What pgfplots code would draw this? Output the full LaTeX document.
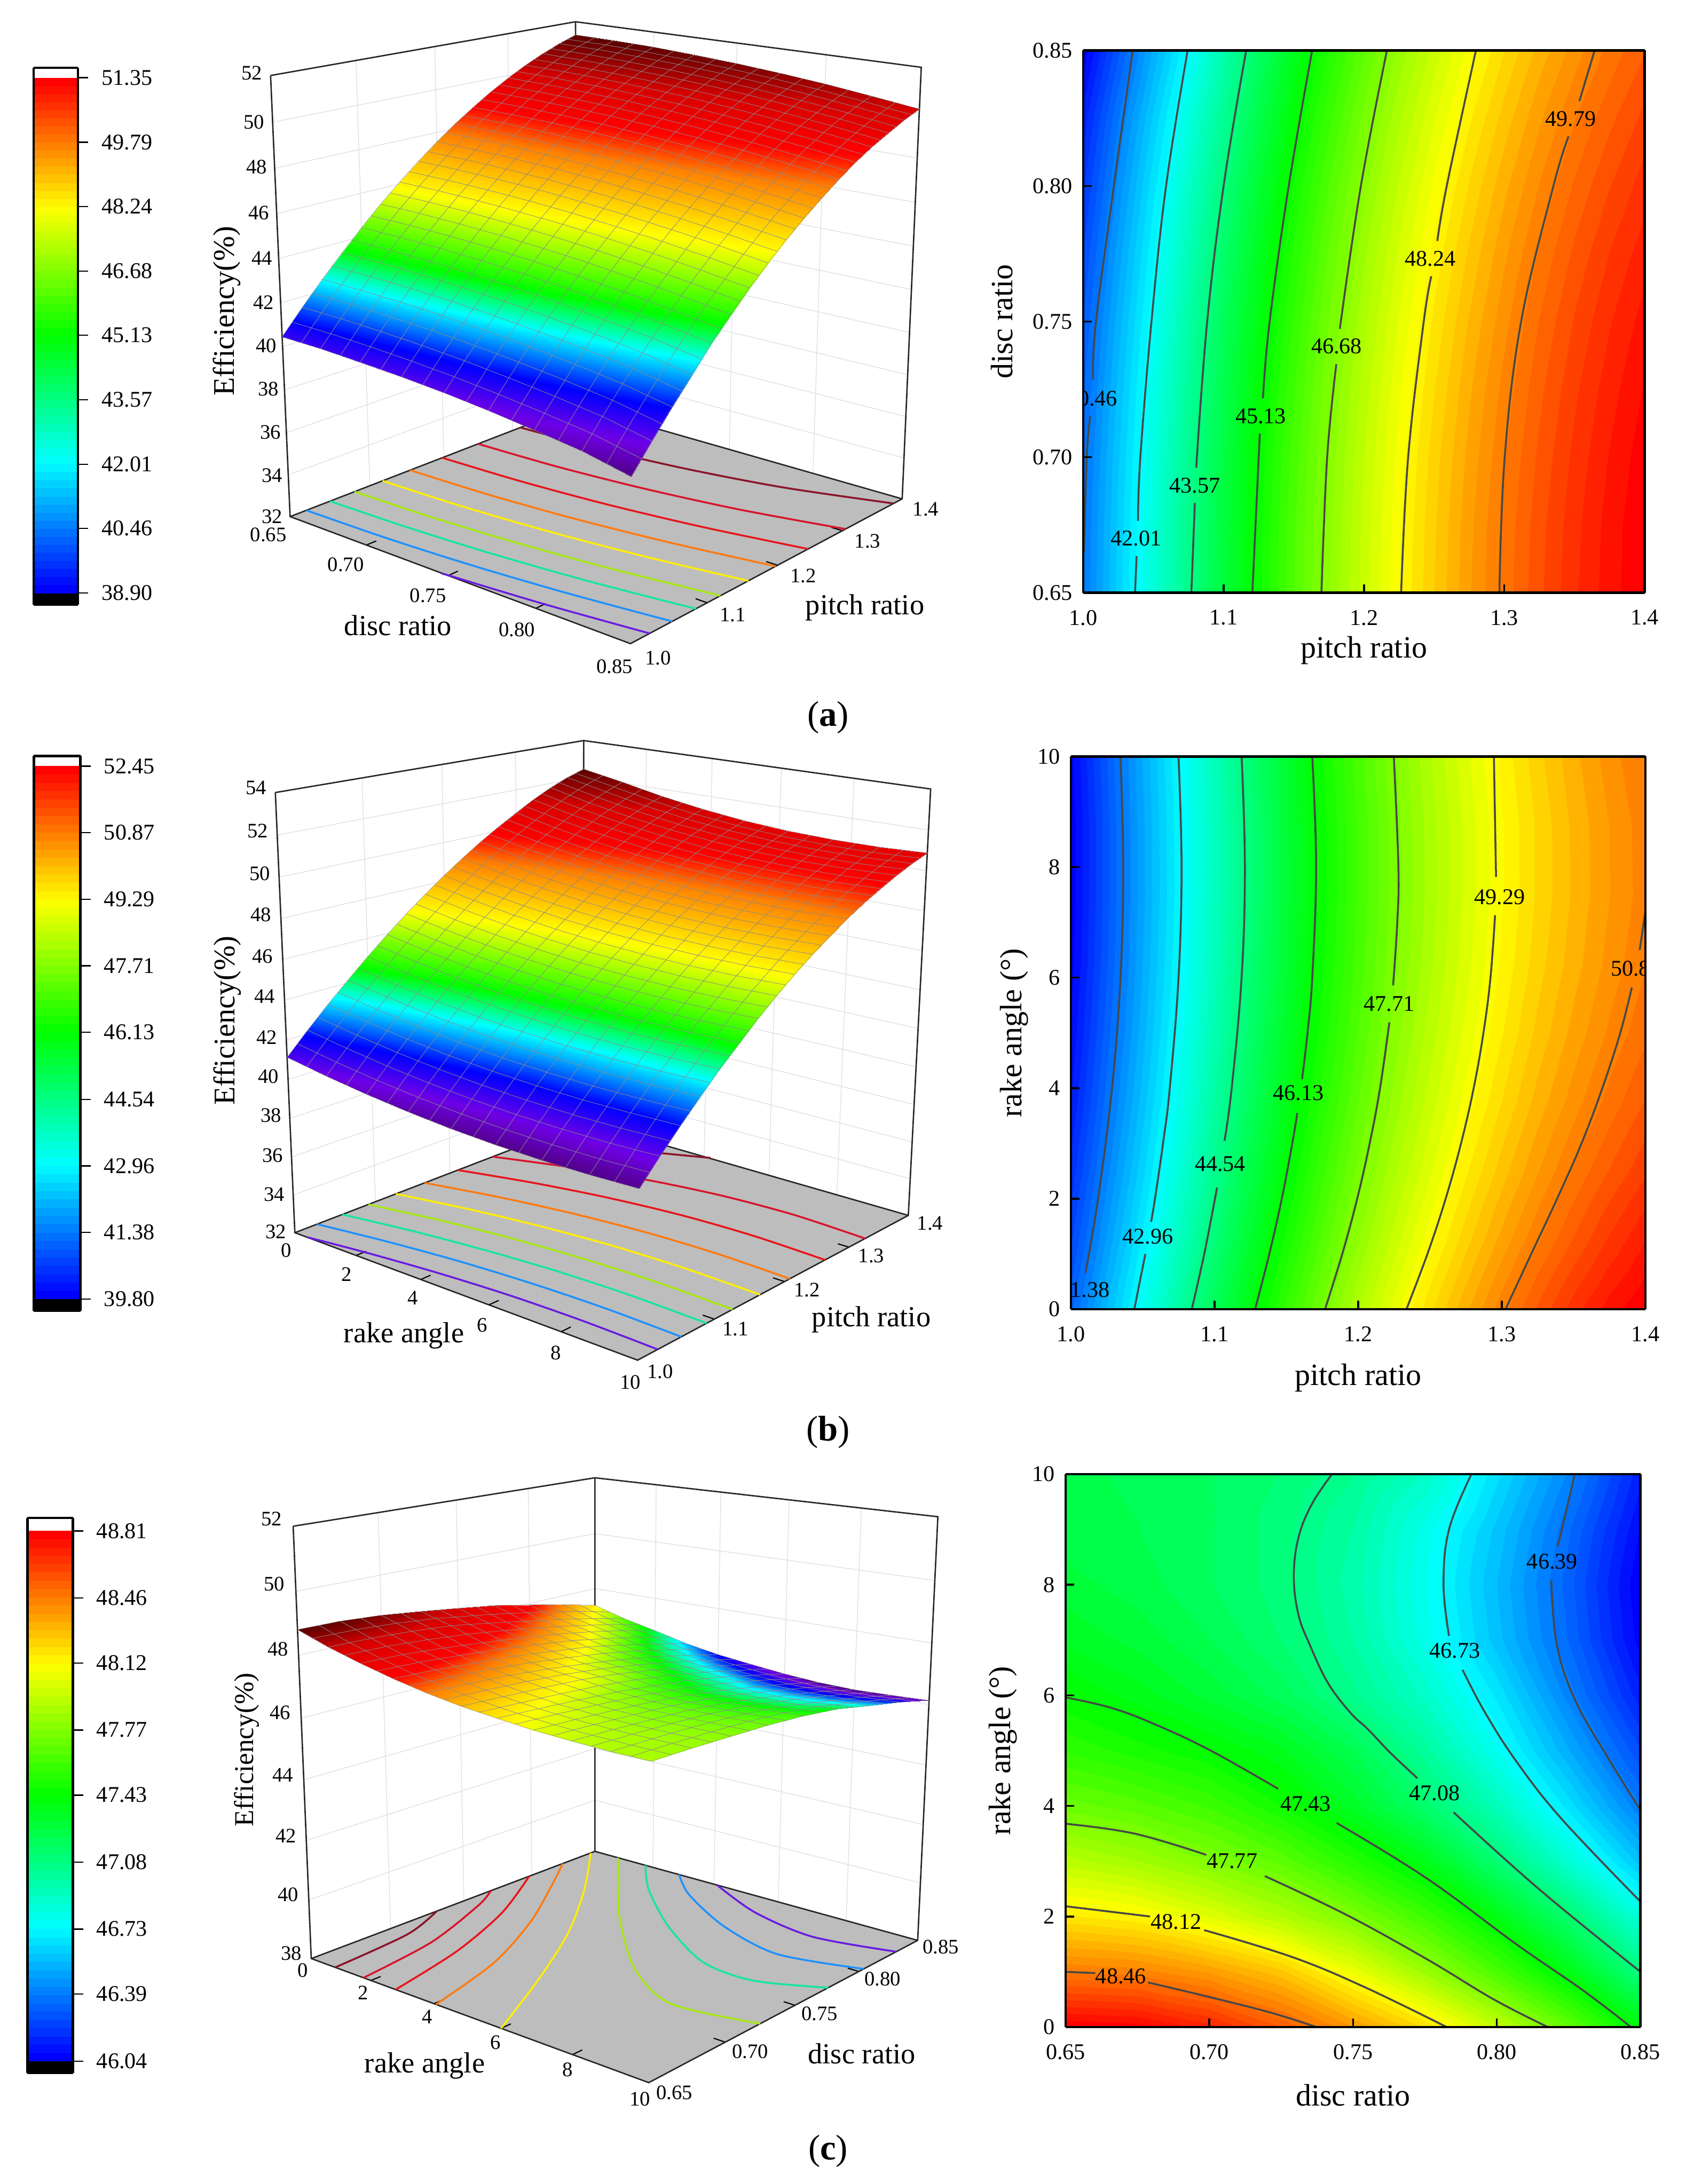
\documentclass[border=0pt]{standalone}
\usepackage{fontspec}
\setmainfont{Liberation Serif}
\usepackage{pgfplots}
\usepackage{pgfplotstable}
\usepgfplotslibrary{patchplots}
\pgfplotsset{compat=1.18}

\definecolor{floorgray}{HTML}{BDBDBD}
\definecolor{wallgrid}{HTML}{DCDCE6}
\definecolor{flA}{HTML}{6A1BE0}
\definecolor{flB}{HTML}{1E90FF}
\definecolor{flC}{HTML}{14E6A0}
\definecolor{flD}{HTML}{A6E812}
\definecolor{flE}{HTML}{FFEE00}
\definecolor{flF}{HTML}{FF7A10}
\definecolor{flG}{HTML}{E8151C}
\definecolor{flH}{HTML}{D8152C}
\definecolor{flI}{HTML}{8A1428}

\newcommand\ft{\fontsize{12}{14}\selectfont}
\newcommand\fb{\fontsize{11}{13}\selectfont}
\newcommand\fl{\fontsize{15.5}{18}\selectfont}
\newcommand\fc{\fontsize{16.5}{19}\selectfont}
\newcommand\fe{\fontsize{16}{18}\selectfont}
\newcommand\fg{\fontsize{14.5}{17}\selectfont}
\newcommand\fk{\fontsize{19}{22}\selectfont}

\pgfplotsset{
  /pgf/number format/assume math mode=true,
  colormap={jetflat}{rgb255(0cm)=(0,0,255) rgb255(1cm)=(0,255,255) rgb255(2cm)=(0,255,0) rgb255(3cm)=(255,255,0) rgb255(4cm)=(255,0,0)},
  colormap={bands}{samples of colormap={64 of jetflat}},
  colormap={lit}{rgb255(0cm)=(80,0,130) rgb255(8cm)=(110,0,230) rgb255(17cm)=(0,0,255) rgb255(29cm)=(0,255,255) rgb255(38cm)=(0,255,0) rgb255(56cm)=(255,255,0) rgb255(72cm)=(255,128,0) rgb255(80cm)=(255,0,0) rgb255(90cm)=(215,0,0) rgb255(100cm)=(90,0,0)},
  colormap={litc}{rgb255(0cm)=(80,0,130) rgb255(6cm)=(110,0,230) rgb255(13cm)=(0,0,255) rgb255(22cm)=(0,255,255) rgb255(32cm)=(0,255,0) rgb255(48cm)=(255,255,0) rgb255(60cm)=(255,128,0) rgb255(68cm)=(255,0,0) rgb255(85cm)=(215,0,0) rgb255(100cm)=(90,0,0)},
  /pgfplots/table/proj/.style={x expr={FX(\thisrow{a},\thisrow{b},\thisrow{c})},y expr={FY(\thisrow{a},\thisrow{b},\thisrow{c})},z expr=0},
  /pgfplots/table/projf/.style={x expr={FX(\thisrow{a},\thisrow{b},\zf)},y expr={FY(\thisrow{a},\thisrow{b},\zf)},z expr=0},
  page3d/.style={scale only axis,at={(0cm,0cm)},anchor=south west,width=31.58cm,height=40.92cm,
    xmin=0,xmax=3158,ymin=0,ymax=4092,zmin=-1,zmax=1,y dir=reverse,view={0}{90},hide axis,clip=false,colormap name=lit},
  wall/.style={draw=wallgrid,line width=0.35pt},
  box/.style={draw=black!85,line width=0.75pt},
  tk/.style={draw=black,line width=0.6pt},
  flo/.style={smooth,line width=1pt},
  mesh3d/.style={surf,shader=interp},
  over3d/.style={mesh,draw=black!45,line width=0.15pt,patch refines=1},
  heat/.style={scale only axis,anchor=south west,view={0}{90},axis on top,zmin=-1,zmax=1,unbounded coords=jump,
    tick align=inside,tick pos=left,major tick length=0.16cm,tick style={black,line width=1pt},
    axis line style={line width=1.3pt},tick label style={font=\ft},
    xticklabel style={yshift=-0.2cm},yticklabel style={xshift=-0.08cm},
    colormap name=bands,colormap access=piecewise constant,label style={font=\fc}},
  cline/.style={smooth,tension=0.65,draw=black!72,line width=1pt},
  cbar/.style={scale only axis,anchor=south west,view={0}{90},axis on top,zmin=-1,zmax=1,xmin=0,xmax=1,xtick=\empty,
    ytick pos=right,yticklabel pos=right,tick align=outside,major tick length=0.19cm,
    tick style={black,line width=0.7pt},axis line style={line width=1.4pt},
    tick label style={font=\ft},yticklabel style={xshift=0.13cm,/pgf/number format/fixed,/pgf/number format/fixed zerofill,/pgf/number format/precision=2},
    colormap name=bands,colormap access=piecewise constant,scaled y ticks=false},
}
\newcommand\seg[2]{\addplot3[#1] table[proj,row sep=\\]{a b c\\#2};}
\newcommand\flin[2]{\addplot3[flo,draw=#1] table[projf,row sep=\\]{a b\\#2};}
\newcommand\cl[1]{\addplot3[cline] table[row sep=\\,x index=0,y index=1,z expr=0,header=false]{#1};}
\newcommand\clab[3]{\node[font=\ft] at (axis cs:#1,#2,0) {#3};}
\newcommand\lab[4]{\node[font=#1] at ({#2*0.01},{(4092-#3)*0.01}) {#4};}

\pgfplotstableread{
a b c
0.65 1.000 40.45
0.65 1.025 41.52
0.65 1.050 42.54
0.65 1.075 43.50
0.65 1.100 44.42
0.65 1.125 45.28
0.65 1.150 46.09
0.65 1.175 46.85
0.65 1.200 47.56
0.65 1.225 48.22
0.65 1.250 48.82
0.65 1.275 49.38
0.65 1.300 49.88
0.65 1.325 50.33
0.65 1.350 50.73
0.65 1.375 51.07
0.65 1.400 51.35
0.675 1.000 40.42
0.675 1.025 41.49
0.675 1.050 42.50
0.675 1.075 43.47
0.675 1.100 44.39
0.675 1.125 45.25
0.675 1.150 46.06
0.675 1.175 46.82
0.675 1.200 47.53
0.675 1.225 48.19
0.675 1.250 48.79
0.675 1.275 49.35
0.675 1.300 49.85
0.675 1.325 50.30
0.675 1.350 50.70
0.675 1.375 51.05
0.675 1.400 51.34
0.70 1.000 40.34
0.70 1.025 41.41
0.70 1.050 42.43
0.70 1.075 43.40
0.70 1.100 44.32
0.70 1.125 45.18
0.70 1.150 45.99
0.70 1.175 46.75
0.70 1.200 47.46
0.70 1.225 48.12
0.70 1.250 48.73
0.70 1.275 49.28
0.70 1.300 49.78
0.70 1.325 50.23
0.70 1.350 50.63
0.70 1.375 50.98
0.70 1.400 51.28
0.725 1.000 40.23
0.725 1.025 41.30
0.725 1.050 42.32
0.725 1.075 43.29
0.725 1.100 44.21
0.725 1.125 45.07
0.725 1.150 45.88
0.725 1.175 46.65
0.725 1.200 47.36
0.725 1.225 48.01
0.725 1.250 48.62
0.725 1.275 49.18
0.725 1.300 49.68
0.725 1.325 50.13
0.725 1.350 50.53
0.725 1.375 50.88
0.725 1.400 51.18
0.75 1.000 40.08
0.75 1.025 41.15
0.75 1.050 42.17
0.75 1.075 43.14
0.75 1.100 44.06
0.75 1.125 44.92
0.75 1.150 45.74
0.75 1.175 46.50
0.75 1.200 47.21
0.75 1.225 47.87
0.75 1.250 48.48
0.75 1.275 49.04
0.75 1.300 49.54
0.75 1.325 50.00
0.75 1.350 50.40
0.75 1.375 50.75
0.75 1.400 51.05
0.775 1.000 39.88
0.775 1.025 40.95
0.775 1.050 41.98
0.775 1.075 42.95
0.775 1.100 43.87
0.775 1.125 44.74
0.775 1.150 45.55
0.775 1.175 46.32
0.775 1.200 47.03
0.775 1.225 47.69
0.775 1.250 48.30
0.775 1.275 48.86
0.775 1.300 49.37
0.775 1.325 49.82
0.775 1.350 50.23
0.775 1.375 50.58
0.775 1.400 50.88
0.80 1.000 39.64
0.80 1.025 40.72
0.80 1.050 41.75
0.80 1.075 42.72
0.80 1.100 43.64
0.80 1.125 44.51
0.80 1.150 45.33
0.80 1.175 46.10
0.80 1.200 46.81
0.80 1.225 47.48
0.80 1.250 48.09
0.80 1.275 48.65
0.80 1.300 49.16
0.80 1.325 49.61
0.80 1.350 50.02
0.80 1.375 50.37
0.80 1.400 50.68
0.825 1.000 39.37
0.825 1.025 40.45
0.825 1.050 41.47
0.825 1.075 42.45
0.825 1.100 43.37
0.825 1.125 44.25
0.825 1.150 45.07
0.825 1.175 45.84
0.825 1.200 46.55
0.825 1.225 47.22
0.825 1.250 47.83
0.825 1.275 48.40
0.825 1.300 48.91
0.825 1.325 49.37
0.825 1.350 49.78
0.825 1.375 50.13
0.825 1.400 50.44
0.85 1.000 38.95
0.85 1.025 40.03
0.85 1.050 41.08
0.85 1.075 42.06
0.85 1.100 43.07
0.85 1.125 43.94
0.85 1.150 44.77
0.85 1.175 45.54
0.85 1.200 46.26
0.85 1.225 46.93
0.85 1.250 47.54
0.85 1.275 48.11
0.85 1.300 48.63
0.85 1.325 49.09
0.85 1.350 49.50
0.85 1.375 49.86
0.85 1.400 50.17
}\tabA

\pgfplotstableread{
a b c
0 1.000 41.13
0 1.025 42.18
0 1.050 43.19
0 1.075 44.15
0 1.100 45.07
0 1.125 45.94
0 1.150 46.77
0 1.175 47.55
0 1.200 48.29
0 1.225 48.98
0 1.250 49.63
0 1.275 50.23
0 1.300 50.79
0 1.325 51.30
0 1.350 51.77
0 1.375 52.15
0 1.400 52.45
1.25 1.000 40.76
1.25 1.025 41.82
1.25 1.050 42.83
1.25 1.075 43.79
1.25 1.100 44.70
1.25 1.125 45.57
1.25 1.150 46.39
1.25 1.175 47.17
1.25 1.200 47.90
1.25 1.225 48.58
1.25 1.250 49.22
1.25 1.275 49.81
1.25 1.300 50.35
1.25 1.325 50.84
1.25 1.350 51.29
1.25 1.375 51.70
1.25 1.400 52.05
2.5 1.000 40.46
2.5 1.025 41.51
2.5 1.050 42.52
2.5 1.075 43.49
2.5 1.100 44.40
2.5 1.125 45.26
2.5 1.150 46.08
2.5 1.175 46.85
2.5 1.200 47.57
2.5 1.225 48.25
2.5 1.250 48.87
2.5 1.275 49.45
2.5 1.300 49.98
2.5 1.325 50.46
2.5 1.350 50.90
2.5 1.375 51.28
2.5 1.400 51.62
3.75 1.000 40.21
3.75 1.025 41.27
3.75 1.050 42.28
3.75 1.075 43.24
3.75 1.100 44.16
3.75 1.125 45.02
3.75 1.150 45.83
3.75 1.175 46.60
3.75 1.200 47.31
3.75 1.225 47.98
3.75 1.250 48.60
3.75 1.275 49.17
3.75 1.300 49.69
3.75 1.325 50.16
3.75 1.350 50.58
3.75 1.375 50.95
3.75 1.400 51.28
5 1.000 40.03
5 1.025 41.09
5 1.050 42.10
5 1.075 43.06
5 1.100 43.98
5 1.125 44.84
5 1.150 45.65
5 1.175 46.41
5 1.200 47.12
5 1.225 47.79
5 1.250 48.40
5 1.275 48.96
5 1.300 49.47
5 1.325 49.94
5 1.350 50.35
5 1.375 50.71
5 1.400 51.02
6.25 1.000 39.91
6.25 1.025 40.97
6.25 1.050 41.99
6.25 1.075 42.95
6.25 1.100 43.86
6.25 1.125 44.72
6.25 1.150 45.53
6.25 1.175 46.29
6.25 1.200 47.00
6.25 1.225 47.66
6.25 1.250 48.26
6.25 1.275 48.82
6.25 1.300 49.33
6.25 1.325 49.79
6.25 1.350 50.19
6.25 1.375 50.55
6.25 1.400 50.86
7.5 1.000 39.86
7.5 1.025 40.92
7.5 1.050 41.93
7.5 1.075 42.89
7.5 1.100 43.80
7.5 1.125 44.66
7.5 1.150 45.47
7.5 1.175 46.23
7.5 1.200 46.94
7.5 1.225 47.59
7.5 1.250 48.20
7.5 1.275 48.76
7.5 1.300 49.26
7.5 1.325 49.72
7.5 1.350 50.12
7.5 1.375 50.47
7.5 1.400 50.78
8.75 1.000 39.86
8.75 1.025 40.92
8.75 1.050 41.94
8.75 1.075 42.90
8.75 1.100 43.81
8.75 1.125 44.67
8.75 1.150 45.48
8.75 1.175 46.24
8.75 1.200 46.94
8.75 1.225 47.60
8.75 1.250 48.21
8.75 1.275 48.76
8.75 1.300 49.27
8.75 1.325 49.72
8.75 1.350 50.13
8.75 1.375 50.48
8.75 1.400 50.79
10 1.000 39.93
10 1.025 40.99
10 1.050 42.00
10 1.075 42.96
10 1.100 43.88
10 1.125 44.74
10 1.150 45.55
10 1.175 46.31
10 1.200 47.02
10 1.225 47.68
10 1.250 48.28
10 1.275 48.84
10 1.300 49.35
10 1.325 49.81
10 1.350 50.22
10 1.375 50.58
10 1.400 50.88
}\tabB

\pgfplotstableread{
a b c
0 0.65 48.81
0 0.675 48.79
0 0.70 48.70
0 0.725 48.55
0 0.75 48.38
0 0.775 48.20
0 0.80 47.95
0 0.825 47.69
0 0.85 47.39
1 0.65 48.46
1 0.675 48.44
1 0.70 48.37
1 0.725 48.26
1 0.75 48.06
1 0.775 47.84
1 0.80 47.62
1 0.825 47.37
1 0.85 47.08
2 0.65 48.17
2 0.675 48.13
2 0.70 48.03
2 0.725 47.90
2 0.75 47.76
2 0.775 47.59
2 0.80 47.38
2 0.825 47.13
2 0.85 46.84
3 0.65 47.92
3 0.675 47.86
3 0.70 47.77
3 0.725 47.67
3 0.75 47.52
3 0.775 47.36
3 0.80 47.12
3 0.825 46.86
3 0.85 46.58
4 0.65 47.71
4 0.675 47.66
4 0.70 47.59
4 0.725 47.47
4 0.75 47.32
4 0.775 47.14
4 0.80 46.93
4 0.825 46.67
4 0.85 46.39
5 0.65 47.55
5 0.675 47.49
5 0.70 47.43
5 0.725 47.35
5 0.75 47.21
5 0.775 47.01
5 0.80 46.78
5 0.825 46.52
5 0.85 46.26
6 0.65 47.43
6 0.675 47.36
6 0.70 47.28
6 0.725 47.19
6 0.75 47.05
6 0.775 46.89
6 0.80 46.68
6 0.825 46.41
6 0.85 46.14
7 0.65 47.33
7 0.675 47.28
7 0.70 47.21
7 0.725 47.12
7 0.75 46.99
7 0.775 46.80
7 0.80 46.58
7 0.825 46.34
7 0.85 46.06
8 0.65 47.27
8 0.675 47.23
8 0.70 47.17
8 0.725 47.10
8 0.75 46.97
8 0.775 46.78
8 0.80 46.56
8 0.825 46.32
8 0.85 46.04
9 0.65 47.23
9 0.675 47.21
9 0.70 47.17
9 0.725 47.10
9 0.75 46.99
9 0.775 46.80
9 0.80 46.59
9 0.825 46.35
9 0.85 46.08
10 0.65 47.22
10 0.675 47.20
10 0.70 47.17
10 0.725 47.12
10 0.75 47.04
10 0.775 46.90
10 0.80 46.66
10 0.825 46.42
10 0.85 46.14
}\tabC

\begin{document}
\begin{tikzpicture}
\path[use as bounding box] (0,0) rectangle (31.58,40.92);

% ---------- colour bars
\begin{axis}[cbar,at={(0.63cm,29.59cm)},width=0.83cm,height=10.06cm,ymin=38.62,ymax=51.59,
  ytick={38.90,40.46,42.01,43.57,45.13,46.68,48.24,49.79,51.35},point meta min=38.90,point meta max=51.35]
\addplot3[fill=black,draw=none] coordinates {(0,38.62,0)(1,38.62,0)(1,38.9,0)(0,38.9,0)};
\addplot3[surf,shader=interp,mesh/rows=2,mesh/cols=2,point meta=y] coordinates {(0,38.9,0)(1,38.9,0)(0,51.35,0)(1,51.35,0)};
\end{axis}
\begin{axis}[cbar,at={(0.635cm,16.36cm)},width=0.87cm,height=10.395cm,ymin=39.52,ymax=52.69,
  ytick={39.80,41.38,42.96,44.54,46.13,47.71,49.29,50.87,52.45},point meta min=39.80,point meta max=52.45]
\addplot3[fill=black,draw=none] coordinates {(0,39.52,0)(1,39.52,0)(1,39.8,0)(0,39.8,0)};
\addplot3[surf,shader=interp,mesh/rows=2,mesh/cols=2,point meta=y] coordinates {(0,39.8,0)(1,39.8,0)(0,52.45,0)(1,52.45,0)};
\end{axis}
\begin{axis}[cbar,at={(0.515cm,2.08cm)},width=0.85cm,height=10.40cm,ymin=45.978,ymax=48.878,
  ytick={46.04,46.39,46.73,47.08,47.43,47.77,48.12,48.46,48.81},point meta min=46.04,point meta max=48.81]
\addplot3[fill=black,draw=none] coordinates {(0,45.978,0)(1,45.978,0)(1,46.04,0)(0,46.04,0)};
\addplot3[surf,shader=interp,mesh/rows=2,mesh/cols=2,point meta=y] coordinates {(0,46.04,0)(1,46.04,0)(0,48.81,0)(1,48.81,0)};
\end{axis}

% ---------- panel a, surface
\begin{axis}[page3d,point meta min=38.9,point meta max=51.35,
  declare function={uu(\a)=(\a-0.65)/0.2; vv(\b)=(\b-1)/0.4; ww(\c)=(\c-32)/20;
    dd(\a,\b,\c)=1-0.1338*uu(\a)+0.157*vv(\b)-0.06*ww(\c);
    FX(\a,\b,\c)=(543.4+479.5*uu(\a)+706.2*vv(\b)-67.0*ww(\c))/dd(\a,\b,\c);
    FY(\a,\b,\c)=30+0.9072*((1063.9+85.0*uu(\a)-97.8*vv(\b)-920.1*ww(\c))/dd(\a,\b,\c)-30);}]
\def\zf{32}
\addplot3[fill=floorgray,draw=none] table[projf,row sep=\\]{a b\\0.65 1\\0.85 1\\0.85 1.4\\0.65 1.4\\};
\pgfplotsinvokeforeach{34,36,...,50}{\seg{wall}{0.65 1 #1\\0.65 1.4 #1\\0.85 1.4 #1\\}}
\pgfplotsinvokeforeach{1.1,1.2,1.3}{\seg{wall}{0.65 #1 32\\0.65 #1 52\\}\seg{tk}{0.85 #1 32\\0.844 #1 32\\}}
\pgfplotsinvokeforeach{0.70,0.75,0.80}{\seg{wall}{#1 1.4 32\\#1 1.4 52\\}\seg{tk}{#1 1 32\\#1 1.012 32\\}}
\seg{box}{0.65 1 52\\0.65 1.4 52\\0.85 1.4 52\\0.85 1.4 32\\0.85 1 32\\0.65 1 32\\0.65 1 52\\}
\seg{box}{0.65 1.4 52\\0.65 1.4 32\\}
\seg{box}{0.65 1 32\\0.65 1.4 32\\0.85 1.4 32\\}
\flin{flA}{0.748 1\\0.75 1.0006\\0.80 1.0106\\0.85 1.0242\\}
\flin{flB}{0.65 1.0198\\0.70 1.0223\\0.75 1.0286\\0.80 1.0391\\0.85 1.0533\\}
\flin{flC}{0.65 1.0491\\0.70 1.0518\\0.75 1.0584\\0.80 1.0693\\0.85 1.0848\\}
\flin{flD}{0.65 1.0803\\0.70 1.0829\\0.75 1.0901\\0.80 1.1018\\0.85 1.1182\\}
\flin{flE}{0.65 1.1167\\0.70 1.1196\\0.75 1.1274\\0.80 1.1399\\0.85 1.1573\\}
\flin{flF}{0.65 1.1535\\0.70 1.1567\\0.75 1.1648\\0.80 1.1784\\0.85 1.1971\\}
\flin{flG}{0.65 1.1978\\0.70 1.2015\\0.75 1.2104\\0.80 1.2252\\0.85 1.2461\\}
\flin{flH}{0.65 1.2491\\0.70 1.253\\0.75 1.2632\\0.80 1.28\\0.85 1.305\\}
\flin{flI}{0.65 1.312\\0.70 1.3171\\0.75 1.33\\0.80 1.3515\\0.85 1.385\\}
\addplot3[mesh3d,mesh/rows=9,mesh/cols=17,point meta=\thisrow{c}] table[proj] {\tabA};
\addplot3[over3d,mesh/rows=9,mesh/cols=17,point meta=\thisrow{c}] table[proj] {\tabA};
\end{axis}

% ---------- panel b, surface
\begin{axis}[page3d,point meta min=39.8,point meta max=52.45,
  declare function={uu(\a)=\a/10; vv(\b)=(\b-1)/0.4; ww(\c)=(\c-32)/22;
    dd(\a,\b,\c)=1-0.1302*uu(\a)+0.1629*vv(\b)-0.065*ww(\c);
    FX(\a,\b,\c)=(552.3+486.5*uu(\a)+718.2*vv(\b)-70.1*ww(\c))/dd(\a,\b,\c);
    FY(\a,\b,\c)=1370+0.9072*((2405.7-84.1*uu(\a)+125.9*vv(\b)-1006.2*ww(\c))/dd(\a,\b,\c)-1370);}]
\def\zf{32}
\addplot3[fill=floorgray,draw=none] table[projf,row sep=\\]{a b\\0 1\\10 1\\10 1.4\\0 1.4\\};
\pgfplotsinvokeforeach{34,36,...,52}{\seg{wall}{0 1 #1\\0 1.4 #1\\10 1.4 #1\\}}
\pgfplotsinvokeforeach{1.1,1.2,1.3}{\seg{wall}{0 #1 32\\0 #1 54\\}\seg{tk}{10 #1 32\\9.7 #1 32\\}}
\pgfplotsinvokeforeach{2,4,6,8}{\seg{wall}{#1 1.4 32\\#1 1.4 54\\}\seg{tk}{#1 1 32\\#1 1.012 32\\}}
\seg{box}{0 1 54\\0 1.4 54\\10 1.4 54\\10 1.4 32\\10 1 32\\0 1 32\\0 1 54\\}
\seg{box}{0 1.4 54\\0 1.4 32\\}
\seg{box}{0 1 32\\0 1.4 32\\10 1.4 32\\}
\flin{flA}{0.4 1\\2 1.01\\4 1.0194\\6 1.0254\\8 1.0271\\10 1.0254\\}
\flin{flB}{0 1.0267\\2 1.0401\\4 1.05\\6 1.0558\\8 1.0579\\10 1.0558\\}
\flin{flC}{0 1.0579\\2 1.0724\\4 1.0829\\6 1.0896\\8 1.0917\\10 1.0896\\}
\flin{flD}{0 1.0911\\2 1.1068\\4 1.1181\\6 1.1251\\8 1.1275\\10 1.1251\\}
\flin{flE}{0 1.1267\\2 1.1438\\4 1.1565\\6 1.1642\\8 1.1667\\10 1.1642\\}
\flin{flF}{0 1.1651\\2 1.1846\\4 1.199\\6 1.2079\\8 1.2108\\10 1.2079\\}
\flin{flG}{0 1.2111\\2 1.234\\4 1.2511\\6 1.2619\\8 1.2653\\10 1.2619\\}
\flin{flH}{0 1.2611\\2 1.2899\\4 1.3125\\6 1.3264\\8 1.3311\\10 1.3264\\}
\flin{flI}{0 1.3199\\2 1.36\\4 1.398\\4.1 1.4\\}
\addplot3[mesh3d,mesh/rows=9,mesh/cols=17,point meta=\thisrow{c}] table[proj] {\tabB};
\addplot3[over3d,mesh/rows=9,mesh/cols=17,point meta=\thisrow{c}] table[proj] {\tabB};
\end{axis}

% ---------- panel c, surface
\begin{axis}[page3d,colormap name=litc,point meta min=46.04,point meta max=48.81,
  declare function={uu(\a)=\a/10; vv(\b)=(\b-0.65)/0.2; ww(\c)=(\c-38)/14;
    dd(\a,\b,\c)=1-0.1432*uu(\a)+0.165*vv(\b)-0.06*ww(\c);
    FX(\a,\b,\c)=(583+458.2*uu(\a)+715.2*vv(\b)-66.8*ww(\c))/dd(\a,\b,\c);
    FY(\a,\b,\c)=2730+0.9072*((3765.7-319.7*uu(\a)+363.4*vv(\b)-1065.2*ww(\c))/dd(\a,\b,\c)-2730);}]
\def\zf{38}
\addplot3[fill=floorgray,draw=none] table[projf,row sep=\\]{a b\\0 0.65\\10 0.65\\10 0.85\\0 0.85\\};
\pgfplotsinvokeforeach{40,42,...,50}{\seg{wall}{0 0.65 #1\\0 0.85 #1\\10 0.85 #1\\}}
\pgfplotsinvokeforeach{0.70,0.75,0.80}{\seg{wall}{0 #1 38\\0 #1 52\\}\seg{tk}{10 #1 38\\9.7 #1 38\\}}
\pgfplotsinvokeforeach{2,4,6,8}{\seg{wall}{#1 0.85 38\\#1 0.85 52\\}\seg{tk}{#1 0.65 38\\#1 0.656 38\\}}
\seg{box}{0 0.65 52\\0 0.85 52\\10 0.85 52\\10 0.85 38\\10 0.65 38\\0 0.65 38\\0 0.65 52\\}
\seg{box}{0 0.85 52\\0 0.85 38\\}
\seg{box}{0 0.65 38\\0 0.85 38\\10 0.85 38\\}
\flin{flA}{4.1 0.85\\6 0.8306\\8 0.8219\\10 0.8313\\}
\flin{flB}{2.87 0.85\\4 0.8295\\6 0.8056\\8 0.7932\\10 0.804\\}
\flin{flC}{1.75 0.85\\3 0.822\\5 0.788\\7 0.7632\\8.5 0.7605\\10 0.7755\\}
\flin{flD}{0.8 0.85\\2.1 0.82\\3.6 0.7844\\6 0.7378\\7.9 0.7165\\10 0.7245\\}
\flin{flE}{6 0.65\\4.8 0.70\\3.45 0.75\\1.79 0.80\\0 0.8466\\}
\flin{flF}{4.06 0.65\\3.39 0.70\\2.25 0.75\\0.76 0.80\\0 0.824\\}
\flin{flG}{2.8 0.65\\2.23 0.70\\1.3 0.75\\0 0.798\\}
\flin{flH}{1.76 0.65\\1.38 0.70\\0.5 0.75\\0 0.7694\\}
\flin{flI}{0.82 0.65\\0.58 0.70\\0 0.731\\}
\addplot3[mesh3d,mesh/rows=11,mesh/cols=9,point meta=\thisrow{c}] table[proj] {\tabC};
\addplot3[over3d,mesh/rows=11,mesh/cols=9,point meta=\thisrow{c}] table[proj] {\tabC};
\end{axis}

% ---------- panel a, map
\begin{axis}[heat,at={(20.29cm,29.813cm)},width=10.515cm,height=10.163cm,
  xmin=1,xmax=1.4,ymin=0.65,ymax=0.85,xtick={1,1.1,1.2,1.3,1.4},ytick={0.65,0.70,0.75,0.80,0.85},
  xticklabel style={/pgf/number format/fixed,/pgf/number format/fixed zerofill,/pgf/number format/precision=1},
  yticklabel style={/pgf/number format/fixed,/pgf/number format/fixed zerofill,/pgf/number format/precision=2},
  xlabel={pitch ratio},ylabel={disc ratio},
  xlabel style={at={([yshift=-1.08cm]axis description cs:0.5,0)},anchor=center},
  ylabel style={at={([xshift=-1.525cm]axis description cs:0,0.5)},anchor=center},
  point meta min=38.9,point meta max=51.35]
\addplot3[surf,shader=interp,mesh/rows=9,mesh/cols=17,point meta=\thisrow{c}] table[x=b,y=a,z expr=0] {\tabA};
\cl{1.0005 0.665\\1.0025 0.70\\1.005 0.7152\\1 nan\\1.0069 0.7287\\1.0091 0.75\\1.0218 0.80\\1.0353 0.85\\}
\cl{1.0369 0.65\\1.038 0.6635\\1 nan\\1.039 0.6765\\1.0407 0.70\\1.0486 0.75\\1.059 0.80\\1.0744 0.85\\}
\cl{1.077 0.65\\1.0795 0.6831\\1 nan\\1.0805 0.6961\\1.0883 0.75\\1.10 0.80\\1.1161 0.85\\}
\cl{1.1205 0.65\\1.1258 0.7087\\1 nan\\1.128 0.7217\\1.1328 0.75\\1.1464 0.80\\1.1631 0.85\\}
\cl{1.1697 0.65\\1.1738 0.70\\1.1803 0.7343\\1 nan\\1.1828 0.7473\\1.1978 0.80\\1.2164 0.85\\}
\cl{1.2265 0.65\\1.2315 0.70\\1.2426 0.75\\1.248 0.7667\\1 nan\\1.2523 0.7797\\1.259 0.80\\1.2798 0.85\\}
\cl{1.2965 0.65\\1.3003 0.70\\1.312 0.75\\1.335 0.80\\1.3458 0.8183\\1 nan\\1.3535 0.8313\\1.3644 0.85\\}
\begin{scope}
\clip (rel axis cs:0,0,0) rectangle (rel axis cs:1,1,0);
\clab{1.3473}{0.8248}{49.79}\clab{1.2473}{0.7732}{48.24}\clab{1.1805}{0.7408}{46.68}\clab{1.1265}{0.7152}{45.13}
\clab{1.0795}{0.6896}{43.57}\clab{1.0376}{0.67}{42.01}\clab{1.0063}{0.7217}{40.46}
\end{scope}
\end{axis}

% ---------- panel b, map
\begin{axis}[heat,at={(20.06cm,16.39cm)},width=10.76cm,height=10.355cm,
  xmin=1,xmax=1.4,ymin=0,ymax=10,xtick={1,1.1,1.2,1.3,1.4},ytick={0,2,4,6,8,10},
  xticklabel style={/pgf/number format/fixed,/pgf/number format/fixed zerofill,/pgf/number format/precision=1},
  xlabel={pitch ratio},ylabel={rake angle (°)},
  xlabel style={at={([yshift=-1.29cm]axis description cs:0.5,0)},anchor=center},
  ylabel style={at={([xshift=-1.06cm]axis description cs:0,0.5)},anchor=center},
  point meta min=39.8,point meta max=52.45]
\addplot3[surf,shader=interp,mesh/rows=9,mesh/cols=17,point meta=\thisrow{c}] table[x=b,y=a,z expr=0] {\tabB};
\cl{1.0101 0.66\\1.0189 2\\1.0286 4\\1.0345 6\\1.0364 8\\1.0345 10\\}
\cl{1.0441 0\\1.0518 1\\1 nan\\1.0558 1.58\\1.0585 2\\1.0641 3\\1.0688 4\\1.0749 6\\1.077 8\\1.0749 10\\}
\cl{1.0841 0\\1.0928 1\\1.1017 2.2\\1 nan\\1.1069 3.05\\1.1119 4\\1.1188 6\\1.1211 8\\1.1188 10\\}
\cl{1.1282 0\\1.1381 1\\1.1468 2\\1.1541 3\\1.1576 3.55\\1 nan\\1.1609 4.16\\1.1647 5\\1.168 6\\1.1707 8\\1.168 10\\}
\cl{1.1769 0\\1.1889 1\\1.1993 2\\1.208 3\\1.2152 4\\1.2217 5.19\\1 nan\\1.2243 5.86\\1.2272 7\\1.228 8\\1.2248 10\\}
\cl{1.2336 0\\1.2482 1\\1.2609 2\\1.2716 3\\1.2804 4\\1.2872 5\\1.2921 6\\1.2953 7.13\\1 nan\\1.296 7.82\\1.2955 8.5\\1.2945 10\\}
\cl{1.3026 0\\1.3205 1\\1.3385 2\\1.3555 3\\1.37 4\\1.3825 5\\1.3905 5.82\\1 nan\\1.396 6.5\\1.4 7.2\\}
\begin{scope}
\clip (rel axis cs:0,0,0) rectangle (rel axis cs:1,1,0);
\clab{1.2986}{7.452}{49.29}\clab{1.2216}{5.527}{47.71}\clab{1.1584}{3.911}{46.13}\clab{1.1039}{2.625}{44.54}
\clab{1.0536}{1.316}{42.96}\clab{1.0092}{0.354}{41.38}\clab{1.3935}{6.166}{50.87}
\end{scope}
\end{axis}

% ---------- panel c, map
\begin{axis}[heat,at={(19.96cm,2.94cm)},width=10.766cm,height=10.36cm,
  xmin=0.65,xmax=0.85,ymin=0,ymax=10,xtick={0.65,0.70,0.75,0.80,0.85},ytick={0,2,4,6,8,10},
  xticklabel style={/pgf/number format/fixed,/pgf/number format/fixed zerofill,/pgf/number format/precision=2},
  xlabel={disc ratio},ylabel={rake angle (°)},
  xlabel style={at={([yshift=-1.28cm]axis description cs:0.5,0)},anchor=center},
  ylabel style={at={([xshift=-1.17cm]axis description cs:0,0.5)},anchor=center},
  point meta min=46.04,point meta max=48.81]
\addplot3[surf,shader=interp,mesh/rows=11,mesh/cols=9,point meta=\thisrow{c}] table[x=b,y=a,z expr=0] {\tabC};
\cl{0.65 1.0\\0.6603 0.977\\1 nan\\0.6786 0.808\\0.6974 0.577\\0.7208 0.269\\0.7373 0.0\\}
\cl{0.65 2.185\\0.6794 2.0\\1 nan\\0.6982 1.754\\0.7287 1.269\\0.7537 0.731\\0.7826 0.0\\}
\cl{0.65 3.677\\0.6739 3.5\\0.6989 3.115\\1 nan\\0.7193 2.731\\0.7474 2.038\\0.7756 1.231\\0.799 0.5\\0.8178 0.0\\}
\cl{0.65 5.962\\0.6661 5.77\\0.6817 5.462\\0.7005 5.0\\0.724 4.308\\1 nan\\0.7443 3.692\\0.7756 2.692\\0.8068 1.5\\0.8303 0.654\\0.8467 0.0\\}
\cl{0.7427 10\\0.7357 9.46\\0.731 8.85\\0.7294 8.15\\0.731 7.46\\0.7349 6.92\\0.7412 6.23\\0.749 5.69\\0.7552 5.385\\0.763 4.96\\0.7724 4.5\\1 nan\\0.785 3.885\\0.8146 2.5\\0.85 1.0\\}
\cl{0.7912 10\\0.7834 9.0\\0.7815 8.0\\0.7834 7.077\\1 nan\\0.7881 6.462\\0.7959 5.692\\0.8068 4.808\\0.8225 3.769\\0.85 2.269\\}
\cl{0.8272 10\\0.8212 8.69\\1 nan\\0.819 8.08\\0.8209 6.923\\0.8272 5.923\\0.8381 4.923\\0.85 3.923\\}
\clab{0.8193}{8.423}{46.39}\clab{0.7854}{6.808}{46.73}\clab{0.7784}{4.231}{47.08}\clab{0.7335}{4.038}{47.43}
\clab{0.7079}{3.0}{47.77}\clab{0.6885}{1.908}{48.12}\clab{0.6692}{0.923}{48.46}
\end{axis}

% ---------- text of the surface panels
\lab{\fb}{472}{135}{52}\lab{\fb}{476}{227}{50}\lab{\fb}{481}{311}{48}\lab{\fb}{485}{397}{46}\lab{\fb}{491}{482}{44}\lab{\fb}{494}{565}{42}
\lab{\fb}{499}{646}{40}\lab{\fb}{503}{727}{38}\lab{\fb}{507}{808}{36}\lab{\fb}{510}{889}{34}\lab{\fb}{510}{966}{32}
\lab{\fb}{503}{1000}{0.65}\lab{\fb}{648}{1056}{0.70}\lab{\fb}{802}{1114}{0.75}\lab{\fb}{969}{1178}{0.80}\lab{\fb}{1152}{1247}{0.85}
\lab{\fb}{1233}{1231}{1.0}\lab{\fb}{1373}{1150}{1.1}\lab{\fb}{1505}{1077}{1.2}\lab{\fb}{1626}{1012}{1.3}\lab{\fb}{1735}{952}{1.4}
\lab{\fl}{746}{1170}{disc ratio}\lab{\fl}{1621}{1137}{pitch ratio}
\node[font=\fe,rotate=90] at (4.25,{(4092-581)*0.01}) {Efficiency(\%)};

\lab{\fb}{480}{1475}{54}\lab{\fb}{483}{1556}{52}\lab{\fb}{487}{1636}{50}\lab{\fb}{489}{1713}{48}\lab{\fb}{492}{1791}{46}\lab{\fb}{496}{1866}{44}
\lab{\fb}{500}{1943}{42}\lab{\fb}{503}{2016}{40}\lab{\fb}{508}{2089}{38}\lab{\fb}{511}{2164}{36}\lab{\fb}{514}{2237}{34}\lab{\fb}{517}{2307}{32}
\lab{\fb}{536}{2342}{0}\lab{\fb}{650}{2387}{2}\lab{\fb}{774}{2431}{4}\lab{\fb}{904}{2482}{6}\lab{\fb}{1042}{2534}{8}\lab{\fb}{1181}{2589}{10}
\lab{\fb}{1237}{2569}{1.0}\lab{\fb}{1378}{2489}{1.1}\lab{\fb}{1512}{2416}{1.2}\lab{\fb}{1633}{2352}{1.3}\lab{\fb}{1743}{2291}{1.4}
\lab{\fl}{757}{2502}{rake angle}\lab{\fl}{1633}{2472}{pitch ratio}
\node[font=\fe,rotate=90] at (4.26,{(4092-1911)*0.01}) {Efficiency(\%)};

\lab{\fb}{509}{2845}{52}\lab{\fb}{514}{2967}{50}\lab{\fb}{521}{3089}{48}\lab{\fb}{525}{3208}{46}\lab{\fb}{530}{3325}{44}\lab{\fb}{536}{3439}{42}
\lab{\fb}{540}{3550}{40}\lab{\fb}{546}{3660}{38}
\lab{\fb}{567}{3692}{0}\lab{\fb}{681}{3734}{2}\lab{\fb}{801}{3779}{4}\lab{\fb}{929}{3827}{6}\lab{\fb}{1064}{3878}{8}\lab{\fb}{1199}{3933}{10}
\lab{\fb}{1264}{3921}{0.65}\lab{\fb}{1406}{3844}{0.70}\lab{\fb}{1536}{3773}{0.75}\lab{\fb}{1654}{3708}{0.80}\lab{\fb}{1763}{3648}{0.85}
\lab{\fl}{796}{3870}{rake angle}\lab{\fl}{1615}{3848}{disc ratio}
\node[font=\fg,rotate=90] at (4.625,{(4092-3278)*0.01}) {Efficiency(\%)};

\lab{\fk}{1552}{1343}{(\textbf{a})}
\lab{\fk}{1552}{2683}{(\textbf{b})}
\lab{\fk}{1552}{4030}{(\textbf{c})}
\end{tikzpicture}
\end{document}
